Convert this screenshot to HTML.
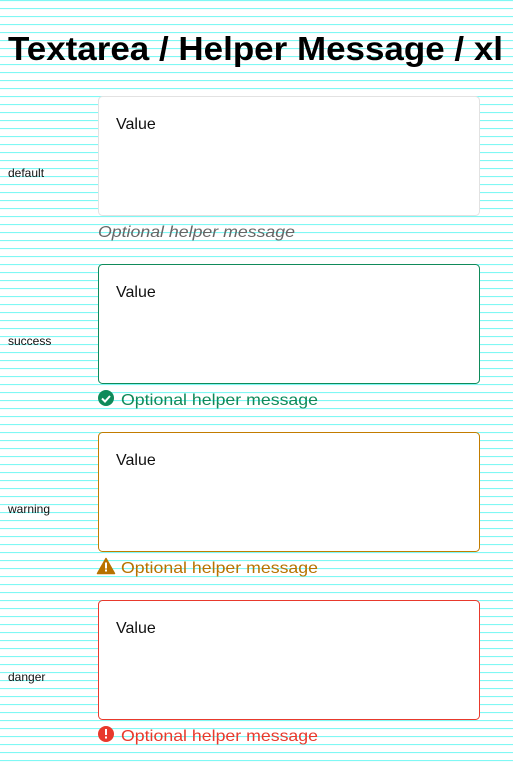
<!DOCTYPE html>
<html><head><meta charset="utf-8"><style>
html,body{margin:0;padding:0;background:#fff;}
svg{display:block;}
text{font-family:"Liberation Sans",sans-serif;}
</style></head><body>
<svg width="513" height="768" viewBox="0 0 513 768" xmlns="http://www.w3.org/2000/svg">
<defs>
<pattern id="p" x="0" y="0" width="513" height="8" patternUnits="userSpaceOnUse">
<rect x="0" y="0" width="513" height="1.1" fill="#80f8f4"/>
</pattern>
</defs>
<rect width="513" height="768" fill="url(#p)"/>
<text x="8" y="60" font-size="33" font-weight="bold" fill="#000" textLength="495" lengthAdjust="spacingAndGlyphs">Textarea / Helper Message / xl</text>

<text x="8" y="177" font-size="12" fill="#111">default</text>
<rect x="98.5" y="96.5" width="381" height="119" rx="4" fill="#fff" stroke="#e2e2e2"/>
<text x="116" y="129" font-size="16" fill="#111">Value</text>
<text x="98" y="237" font-size="16" font-style="italic" fill="#666" textLength="197" lengthAdjust="spacingAndGlyphs">Optional helper message</text>

<text x="8" y="345" font-size="12" fill="#111">success</text>
<rect x="98.5" y="264.5" width="381" height="119" rx="4" fill="#fff" stroke="#0f8a5a"/>
<text x="116" y="297" font-size="16" fill="#111">Value</text>
<circle cx="106" cy="398" r="8" fill="#0f8a5a"/>
<path d="M102 398.5l3 3 5-5.5" stroke="#fff" stroke-width="2" fill="none"/>
<text x="121" y="405" font-size="16" fill="#0f8a5a" textLength="197" lengthAdjust="spacingAndGlyphs">Optional helper message</text>

<text x="8" y="513" font-size="12" fill="#111">warning</text>
<rect x="98.5" y="432.5" width="381" height="119" rx="4" fill="#fff" stroke="#c27c00"/>
<text x="116" y="465" font-size="16" fill="#111">Value</text>
<path d="M106 558.5L114.5 573.5H97.5Z" fill="#b87200" stroke="#b87200" stroke-linejoin="round" stroke-width="1.5"/>
<rect x="105" y="562.5" width="2" height="6" fill="#fff"/>
<rect x="105" y="569.5" width="2" height="2" fill="#fff"/>
<text x="121" y="573" font-size="16" fill="#b87200" textLength="197" lengthAdjust="spacingAndGlyphs">Optional helper message</text>

<text x="8" y="681" font-size="12" fill="#111">danger</text>
<rect x="98.5" y="600.5" width="381" height="119" rx="4" fill="#fff" stroke="#e8392c"/>
<text x="116" y="633" font-size="16" fill="#111">Value</text>
<circle cx="106" cy="734" r="8" fill="#e8392c"/>
<rect x="105" y="729" width="2" height="6" fill="#fff"/>
<rect x="105" y="736.5" width="2" height="2" fill="#fff"/>
<text x="121" y="741" font-size="16" fill="#e8392c" textLength="197" lengthAdjust="spacingAndGlyphs">Optional helper message</text>
</svg>
</body></html>
